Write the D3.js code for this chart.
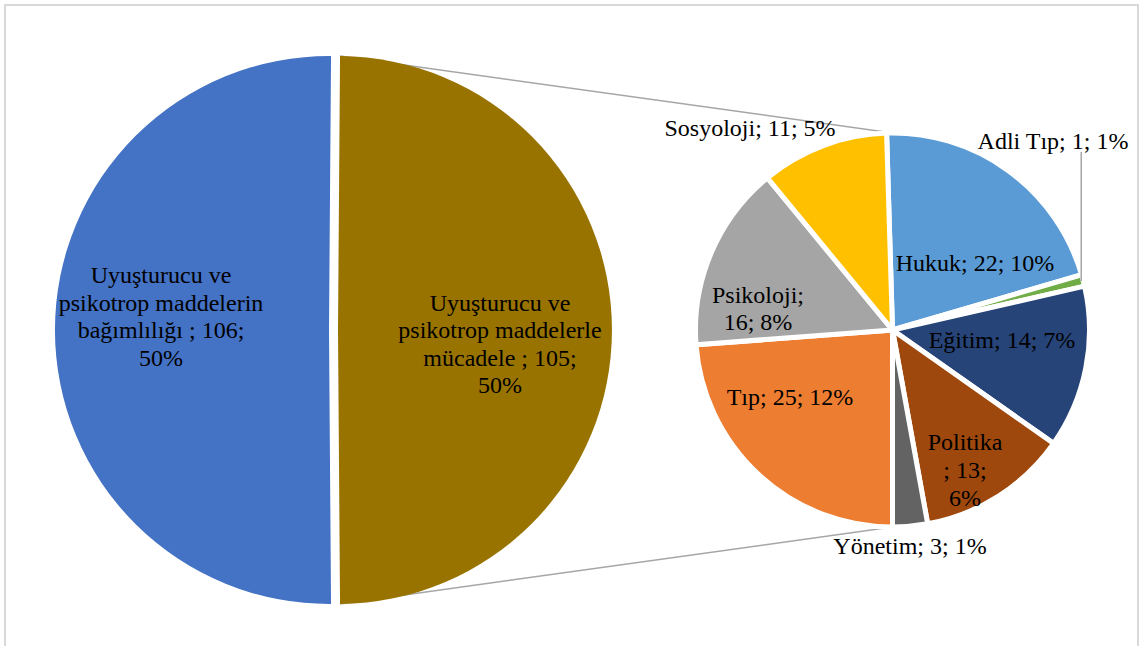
<!DOCTYPE html>
<html>
<head>
<meta charset="utf-8">
<script src="https://cdn.jsdelivr.net/npm/d3@7"></script>
<style>
  html, body { margin: 0; padding: 0; background: #fff; }
  svg { display: block; }
</style>
</head>
<body>
<svg id="chart" width="1140" height="646"></svg>
<script>
// Main pie: the two research topics (category names keep their trailing spaces)
const mainCategories = ["Uyuşturucu ve psikotrop maddelerle mücadele ", "Uyuşturucu ve psikotrop maddelerin bağımlılığı "];
const mainValues = [105, 106];
const mainPercents = ["50%", "50%"];

// Secondary pie: the "mücadele" topic split by discipline
const subCategories = ["Hukuk", "Adli Tıp", "Eğitim", "Politika ", "Yönetim", "Tıp", "Psikoloji", "Sosyoloji"];
const subValues = [22, 1, 14, 13, 3, 25, 16, 11];
const subPercents = ["10%", "1%", "7%", "6%", "1%", "12%", "8%", "5%"];

// ---- styling / layout ----
const mainColors = ["#997300", "#4472C4"];
const subColors = ["#5B9BD5", "#70AD47", "#264478", "#9E480E", "#636363", "#ED7D31", "#A5A5A5", "#FFC000"];

const mainCenter = { x: 333.5, y: 330 };
const mainR = 274;
const mainExplode = 4.5;
const subCenter = { x: 892.5, y: 330 };
const subR = 197;

// label word-wrap (words per line) and block offsets from the pie centre
const mainWrap = [[2, 2, 3, 1], [2, 2, 3, 1]];
const mainLabelOffset = [[166.5, 14], [-172.5, -13.5]];
const subWrap = [[4], [4], [4], [1, 2, 1], [4], [4], [1, 2], [4]];
const subLabelOffset = [
  [82.5, -67], [160.5, -189], [109.5, 10], [72.5, 140],
  [17.5, 216], [-102.5, 67], [-134.5, -21.5], [-142.5, -202]
];
const lineHeight = 27.6;

const svg = d3.select("#chart");
const font = "'Liberation Serif', 'Times New Roman', serif";

// chart frame
svg.append("rect")
  .attr("x", 5).attr("y", 5).attr("width", 1133).attr("height", 700)
  .attr("fill", "#fff").attr("stroke", "#d9d9d9").attr("stroke-width", 2);

// pie layouts: the "other" slice faces the secondary pie; the secondary pie
// is rotated so Tıp begins straight down
const mainTotal = d3.sum(mainValues);
const mainStart = Math.PI / 2 - (mainValues[0] / mainTotal) * Math.PI;
const mainPie = d3.pie().sort(null).value(d => d)
  .startAngle(mainStart).endAngle(mainStart + 2 * Math.PI);
const mainArcs = mainPie(mainValues);

const subTotal = d3.sum(subValues);
const beforeTip = d3.sum(subValues.slice(0, 5));
const subStart = Math.PI - (beforeTip / subTotal) * 2 * Math.PI;
const subPie = d3.pie().sort(null).value(d => d)
  .startAngle(subStart).endAngle(subStart + 2 * Math.PI);
const subArcs = subPie(subValues);

const mainArc = d3.arc().innerRadius(0).outerRadius(mainR);
const subArc = d3.arc().innerRadius(0).outerRadius(subR);

function explodeShift(a, dist) {
  const mid = (a.startAngle + a.endAngle) / 2;
  return [dist * Math.sin(mid), -dist * Math.cos(mid)];
}

// connector lines from the "mücadele" slice to the secondary pie
const gold = mainArcs[0];
const gShift = explodeShift(gold, mainExplode);
const pt = (ang, r) => [r * Math.sin(ang), -r * Math.cos(ang)];
const gTop = pt(gold.startAngle, mainR);
const gBot = pt(gold.endAngle, mainR);
const connectors = [
  [[mainCenter.x + gShift[0] + gTop[0], mainCenter.y + gShift[1] + gTop[1]], [subCenter.x, subCenter.y - subR]],
  [[mainCenter.x + gShift[0] + gBot[0], mainCenter.y + gShift[1] + gBot[1]], [subCenter.x, subCenter.y + subR]]
];
svg.append("g").selectAll("line").data(connectors).join("line")
  .attr("x1", d => d[0][0]).attr("y1", d => d[0][1])
  .attr("x2", d => d[1][0]).attr("y2", d => d[1][1])
  .attr("stroke", "#a6a6a6").attr("stroke-width", 1.5);

// main pie
const gMain = svg.append("g").attr("transform", `translate(${mainCenter.x},${mainCenter.y})`);
gMain.selectAll("path").data(mainArcs).join("path")
  .attr("transform", d => { const s = explodeShift(d, mainExplode); return `translate(${s[0]},${s[1]})`; })
  .attr("d", mainArc)
  .attr("fill", (d, i) => mainColors[i]);

// secondary pie
const gSub = svg.append("g").attr("transform", `translate(${subCenter.x},${subCenter.y})`);
gSub.selectAll("path").data(subArcs).join("path")
  .attr("d", subArc)
  .attr("fill", (d, i) => subColors[i])
  .attr("stroke", "#fff").attr("stroke-width", 5).attr("stroke-linejoin", "miter");

// leader line for the tiny Adli Tıp slice
const adli = subArcs[1];
const adliPt = pt((adli.startAngle + adli.endAngle) / 2, subR - 2);
gSub.append("line")
  .attr("x1", adliPt[0]).attr("y1", subLabelOffset[1][1] + 11)
  .attr("x2", adliPt[0]).attr("y2", adliPt[1])
  .attr("stroke", "#a6a6a6").attr("stroke-width", 1.5);

// label helpers
function wrapWords(text, counts) {
  const words = text.trim().split(/\s+/);
  const lines = [];
  let k = 0;
  counts.forEach(c => { lines.push(words.slice(k, k + c).join(" ")); k += c; });
  if (k < words.length) lines[lines.length - 1] += " " + words.slice(k).join(" ");
  return lines;
}
function drawLabel(g, lines, dx, dy) {
  const t = g.append("text")
    .attr("text-anchor", "middle")
    .attr("font-family", font).attr("font-size", 24).attr("fill", "#000");
  const y0 = dy - (lines.length - 1) * lineHeight / 2;
  lines.forEach((ln, i) => {
    t.append("tspan").attr("x", dx).attr("y", y0 + i * lineHeight)
      .attr("dominant-baseline", "central").text(ln);
  });
}

mainArcs.forEach((a, i) => {
  const txt = `${mainCategories[i]}; ${mainValues[i]}; ${mainPercents[i]}`;
  drawLabel(gMain, wrapWords(txt, mainWrap[i]), mainLabelOffset[i][0], mainLabelOffset[i][1]);
});
subArcs.forEach((a, i) => {
  const txt = `${subCategories[i]}; ${subValues[i]}; ${subPercents[i]}`;
  drawLabel(gSub, wrapWords(txt, subWrap[i]), subLabelOffset[i][0], subLabelOffset[i][1]);
});
</script>
</body>
</html>
